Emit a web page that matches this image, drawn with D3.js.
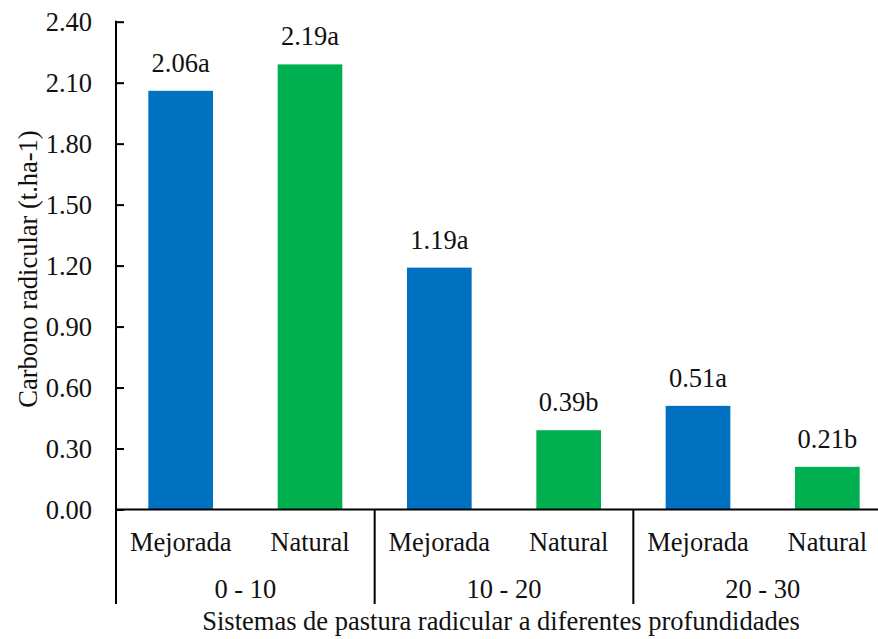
<!DOCTYPE html>
<html>
<head>
<meta charset="utf-8">
<script src="https://cdn.jsdelivr.net/npm/d3@7"></script>
</head>
<body style="margin:0;background:#fff">
<svg id="chart" width="878" height="639" style="display:block"></svg>
<script>
// Root carbon by pasture system and depth
const depths = ["0 - 10", "10 - 20", "20 - 30"];
const systems = ["Mejorada", "Natural"];
const mejoradaValues = [2.06, 1.19, 0.51];
const naturalValues = [2.19, 0.39, 0.21];
const mejoradaLetters = ["a", "a", "a"];
const naturalLetters = ["a", "b", "b"];
const yTicks = [0, 0.3, 0.6, 0.9, 1.2, 1.5, 1.8, 2.1, 2.4];
const colors = { Mejorada: "#0070C0", Natural: "#00B050" };

const rows = [];
depths.forEach((d, i) => {
  rows.push({ depth: d, system: "Mejorada", value: mejoradaValues[i], letter: mejoradaLetters[i] });
  rows.push({ depth: d, system: "Natural", value: naturalValues[i], letter: naturalLetters[i] });
});

const svg = d3.select("#chart");
const plotLeft = 116, plotRight = 892, plotTop = 21.7, plotBottom = 509.5;
const fontSize = 26.5;
const textColor = "#111";

// shared text styling
const styleText = sel => sel
  .attr("font-family", "Liberation Serif")
  .style("font-family", '"Liberation Serif"')
  .attr("font-size", fontSize)
  .attr("fill", textColor);

const y = d3.scaleLinear().domain([0, 2.4]).range([plotBottom, plotTop]);
const xGroup = d3.scaleBand().domain(depths).range([plotLeft, plotRight]).padding(0);
const xSys = d3.scaleBand().domain(systems).range([0, xGroup.bandwidth()])
  .paddingInner(0.5).paddingOuter(0.25);
const barCenter = d => xGroup(d.depth) + xSys(d.system) + xSys.bandwidth() / 2;

// bars
svg.append("g").selectAll("rect").data(rows).join("rect")
  .attr("x", d => xGroup(d.depth) + xSys(d.system))
  .attr("y", d => y(d.value))
  .attr("width", xSys.bandwidth())
  .attr("height", d => y(0) - y(d.value))
  .attr("fill", d => colors[d.system]);

// value labels
svg.append("g").selectAll("text").data(rows).join("text")
  .attr("x", barCenter)
  .attr("y", d => y(d.value) - 19)
  .attr("text-anchor", "middle")
  .call(styleText)
  .text(d => d.value.toFixed(2) + d.letter);

// y axis with inward ticks
const yAxis = d3.axisRight(y).tickValues(yTicks).tickSize(8).tickFormat("");
const ya = svg.append("g").attr("transform", `translate(${plotLeft},0)`).call(yAxis);
ya.select(".domain").remove();
ya.selectAll(".tick line").attr("stroke", "#000").attr("stroke-width", 2);
svg.append("line").attr("x1", plotLeft).attr("x2", plotLeft).attr("y1", plotTop - 1).attr("y2", 604)
  .attr("stroke", "#000").attr("stroke-width", 2);

svg.append("g").selectAll("text").data(yTicks).join("text")
  .attr("x", 92).attr("y", d => y(d)).attr("dy", "0.35em")
  .attr("text-anchor", "end")
  .call(styleText)
  .text(d => d3.format(".2f")(d));

// x axis baseline and group separators
svg.append("line").attr("x1", plotLeft).attr("x2", 878).attr("y1", y(0)).attr("y2", y(0))
  .attr("stroke", "#000").attr("stroke-width", 2);
svg.append("g").selectAll("line").data(depths.slice(1)).join("line")
  .attr("x1", d => xGroup(d)).attr("x2", d => xGroup(d))
  .attr("y1", y(0)).attr("y2", 604)
  .attr("stroke", "#000").attr("stroke-width", 2);

// category labels
svg.append("g").selectAll("text").data(rows).join("text")
  .attr("x", barCenter)
  .attr("y", 551)
  .attr("text-anchor", "middle")
  .call(styleText)
  .text(d => d.system);

// group labels
svg.append("g").selectAll("text").data(depths).join("text")
  .attr("x", d => xGroup(d) + xGroup.bandwidth() / 2)
  .attr("y", 598)
  .attr("text-anchor", "middle")
  .call(styleText)
  .text(d => d);

// axis titles
svg.append("text").attr("x", 501).attr("y", 630)
  .attr("text-anchor", "middle")
  .call(styleText)
  .text("Sistemas de pastura radicular a diferentes profundidades");
svg.append("text")
  .attr("transform", `translate(37,269) rotate(-90)`)
  .attr("text-anchor", "middle")
  .call(styleText)
  .text("Carbono radicular (t.ha-1)");
</script>
</body>
</html>
